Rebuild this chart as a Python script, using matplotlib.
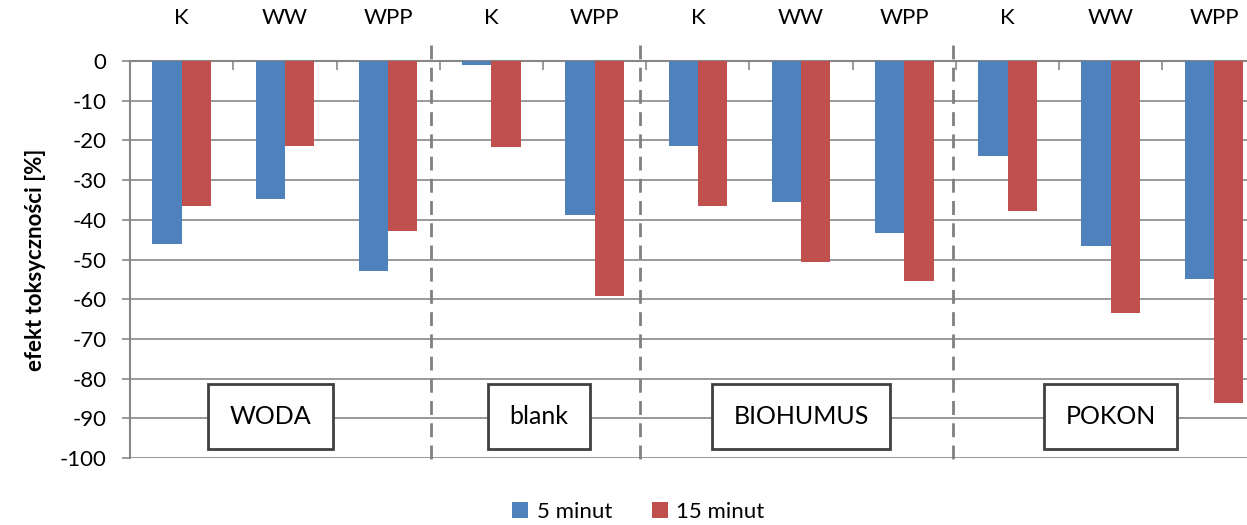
import numpy as np
import matplotlib
matplotlib.use("Agg")
import matplotlib.pyplot as plt

plt.rcParams['font.family'] = ['Lato', 'DejaVu Sans']
plt.rcParams['axes.unicode_minus'] = False

# Data
categories = ['K', 'WW', 'WPP', 'K', 'WPP', 'K', 'WW', 'WPP', 'K', 'WW', 'WPP']
min5 = [-46.0, -34.7, -52.8, -1.0, -38.9, -21.4, -35.6, -43.4, -23.9, -46.7, -55.0]
min15 = [-36.6, -21.4, -42.8, -21.7, -59.3, -36.6, -50.6, -55.5, -37.9, -63.5, -86.1]
groups = ['WODA', 'blank', 'BIOHUMUS', 'POKON']
group_x = [0.86, 3.46, 6.0, 9.0]
separators = [2.42, 4.44, 7.47]

blue = '#4F81BD'
red = '#C0504D'
grid_c = '#878787'

fig = plt.figure(figsize=(12.47, 5.25), dpi=100)
ax = fig.add_axes([0.1043, 0.1276, 0.8957, 0.7562])

x = np.arange(len(categories))
w = 0.284
ax.bar(x - w / 2, min5, w, color=blue, label='5 minut', zorder=3)
ax.bar(x + w / 2, min15, w, color=red, label='15 minut', zorder=3)

ax.set_ylim(-100, 0)
ax.set_xlim(-0.5, 10.32)
ax.set_yticks(np.arange(-100, 1, 10))
ax.yaxis.grid(True, color=grid_c, linewidth=1.2, zorder=0)
ax.tick_params(axis='y', length=6, width=1.2, color=grid_c, pad=11, labelsize=16, labelcolor='#000000')

# category labels on top, tick marks at boundaries
ax.xaxis.tick_top()
ax.set_xticks(x)
ax.set_xticklabels(categories)
ax.set_xticks(np.arange(0.5, 10.5, 1), minor=True)
ax.tick_params(axis='x', which='major', length=0, pad=24, labelsize=16)
ax.tick_params(axis='x', which='minor', direction='in', length=6.5, width=1.2, color=grid_c)

for s in ['right', 'bottom']:
    ax.spines[s].set_visible(False)
for s in ['top', 'left']:
    ax.spines[s].set_color(grid_c)
    ax.spines[s].set_linewidth(1.5)

ax.set_ylabel('efekt toksyczności [%]', fontsize=16, fontweight='bold', labelpad=10)

# dashed separators between groups
for sx in separators:
    ax.plot([sx, sx], [4.0, -100.5], color='#808080', linestyle=(0, (5, 3)),
            linewidth=2, clip_on=False, zorder=4)

# group name boxes
for gx, name in zip(group_x, groups):
    ax.text(gx, -89.5, name, ha='center', va='center', fontsize=18, zorder=5,
            bbox=dict(boxstyle='square,pad=0.85', facecolor='white', edgecolor='#404040', linewidth=2))

fig.legend(loc='center', bbox_to_anchor=(0.512, 0.025), ncol=2, frameon=False,
           fontsize=16, handlelength=0.7, handleheight=0.7, handletextpad=0.4, columnspacing=1.8)

fig.savefig('out.png', dpi=100)
